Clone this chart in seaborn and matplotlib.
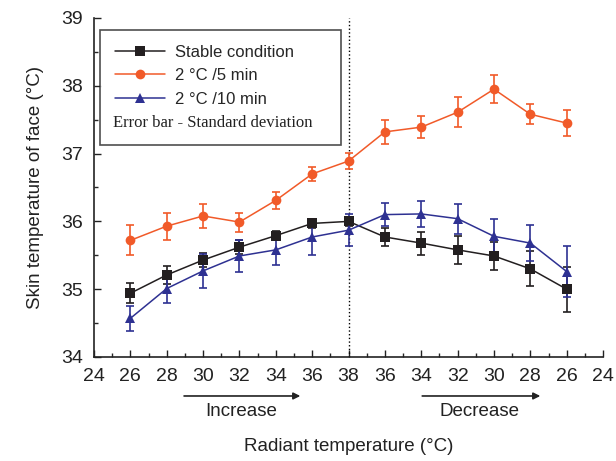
import numpy as np
import pandas as pd
import matplotlib
matplotlib.use("Agg")
import matplotlib.pyplot as plt
from matplotlib.ticker import MultipleLocator
from matplotlib.lines import Line2D
import seaborn as sns

# ---- data ----
tick_labels = ["24", "26", "28", "30", "32", "34", "36", "38",
               "36", "34", "32", "30", "28", "26", "24"]
point_labels = ["26", "28", "30", "32", "34", "36", "38",
                "36", "34", "32", "30", "28", "26"]
series_names = ["Stable condition", "2 \u00b0C /5 min", "2 \u00b0C /10 min"]

stable_mean = [34.94, 35.21, 35.43, 35.62, 35.79, 35.97, 36.00,
               35.77, 35.68, 35.58, 35.49, 35.30, 35.00]
stable_sd = [0.15, 0.13, 0.10, 0.10, 0.07, 0.07, 0.07,
             0.13, 0.17, 0.21, 0.21, 0.26, 0.33]
fast_mean = [35.72, 35.93, 36.08, 35.99, 36.31, 36.70, 36.89,
             37.32, 37.39, 37.61, 37.95, 37.58, 37.45]
fast_sd = [0.22, 0.20, 0.18, 0.14, 0.12, 0.10, 0.12,
           0.18, 0.16, 0.22, 0.21, 0.15, 0.19]
slow_mean = [34.57, 35.01, 35.27, 35.49, 35.58, 35.77, 35.87,
             36.10, 36.11, 36.04, 35.78, 35.68, 35.26]
slow_sd = [0.18, 0.21, 0.25, 0.23, 0.23, 0.27, 0.24,
           0.17, 0.19, 0.22, 0.25, 0.27, 0.38]

colors = ["#231F20", "#F15A29", "#2E3192"]
markers = ["s", "o", "^"]

means = [stable_mean, fast_mean, slow_mean]
sds = [stable_sd, fast_sd, slow_sd]

xpos = np.arange(len(point_labels))
rows = []
for name, m in zip(series_names, means):
    for i, v in zip(xpos, m):
        rows.append({"pos": i, "temp": v, "series": name})
df = pd.DataFrame(rows)

# ---- plotting ----
sns.set_style("ticks")
plt.rcParams["font.family"] = ["Liberation Sans", "DejaVu Sans"]

fig = plt.figure(figsize=(6.16, 4.61), dpi=100)
ax = fig.add_axes([0.1526, 0.2256, 0.8264, 0.7354])

for name, m, s, c in zip(series_names, means, sds, colors):
    ax.errorbar(xpos, m, yerr=s, fmt="none", ecolor=c, elinewidth=1.2,
                capsize=3, capthick=1.2, zorder=2)

sns.lineplot(data=df, x="pos", y="temp", hue="series", style="series",
             palette=dict(zip(series_names, colors)),
             markers=dict(zip(series_names, markers)), dashes=False,
             markersize=7, linewidth=1.1, markeredgewidth=0,
             legend=False, ax=ax, zorder=3)

ax.axvline(6, color="black", linestyle=":", linewidth=1.0, zorder=1)

ax.set_xlim(-1, 13)
ax.set_ylim(34, 39)
ax.set_xticks(np.arange(-1, 14))
ax.set_xticklabels(tick_labels)
ax.xaxis.set_minor_locator(MultipleLocator(0.5))
ax.yaxis.set_major_locator(MultipleLocator(1))
ax.yaxis.set_minor_locator(MultipleLocator(0.5))
ax.tick_params(axis="both", which="major", direction="in", length=5,
               width=1, labelsize=14, colors="#222222", pad=8)
ax.tick_params(axis="both", which="minor", direction="in", length=3, width=1)
ax.tick_params(axis="x", which="both", top=False)
ax.tick_params(axis="y", which="both", right=False)
for sp in ["top", "right"]:
    ax.spines[sp].set_visible(False)
for sp in ["left", "bottom"]:
    ax.spines[sp].set_linewidth(1.2)
    ax.spines[sp].set_color("#222222")

ax.set_xlabel("Radiant temperature (\u00b0C)", fontsize=13.5, labelpad=38,
              color="#222222")
ax.set_ylabel("Skin temperature of face (\u00b0C)", fontsize=13.5, labelpad=12,
              color="#222222")

# arrows under the axis
trans = matplotlib.transforms.blended_transform_factory(ax.transData, ax.transAxes)
ax.annotate("", xy=(4.75, -0.115), xytext=(1.4, -0.115), xycoords=trans,
            textcoords=trans,
            arrowprops=dict(arrowstyle="-|>", color="#222222", lw=1.2,
                            mutation_scale=10), annotation_clip=False)
ax.annotate("", xy=(11.35, -0.115), xytext=(7.95, -0.115), xycoords=trans,
            textcoords=trans,
            arrowprops=dict(arrowstyle="-|>", color="#222222", lw=1.2,
                            mutation_scale=10), annotation_clip=False)
ax.text(3.05, -0.162, "Increase", transform=trans, ha="center", va="center",
        fontsize=13.5, color="#222222")
ax.text(9.6, -0.162, "Decrease", transform=trans, ha="center", va="center",
        fontsize=13.5, color="#222222")

# legend
handles = [Line2D([0], [0], color=c, marker=mk, markersize=7, lw=1.1,
                  markeredgewidth=0) for c, mk in zip(colors, markers)]
handles.append(Line2D([0], [0], color="none"))
labels = series_names + [" "]
leg = ax.legend(handles, labels, loc="upper left",
                bbox_to_anchor=(0.012, 0.649, 0.473, 0.316), mode="expand",
                borderaxespad=0, fontsize=12, frameon=True, fancybox=False,
                handlelength=3.0, labelspacing=0.5, borderpad=0.9,
                handletextpad=0.6)
leg.get_frame().set_edgecolor("#222222")
leg.get_frame().set_linewidth(1.2)
ax.text(0.037, 0.689, "Error bar - Standard deviation", transform=ax.transAxes,
        ha="left", va="center", fontsize=12,
        family=["Liberation Serif", "DejaVu Serif"], color="#222222", zorder=6)

fig.savefig("out.png", dpi=100)
